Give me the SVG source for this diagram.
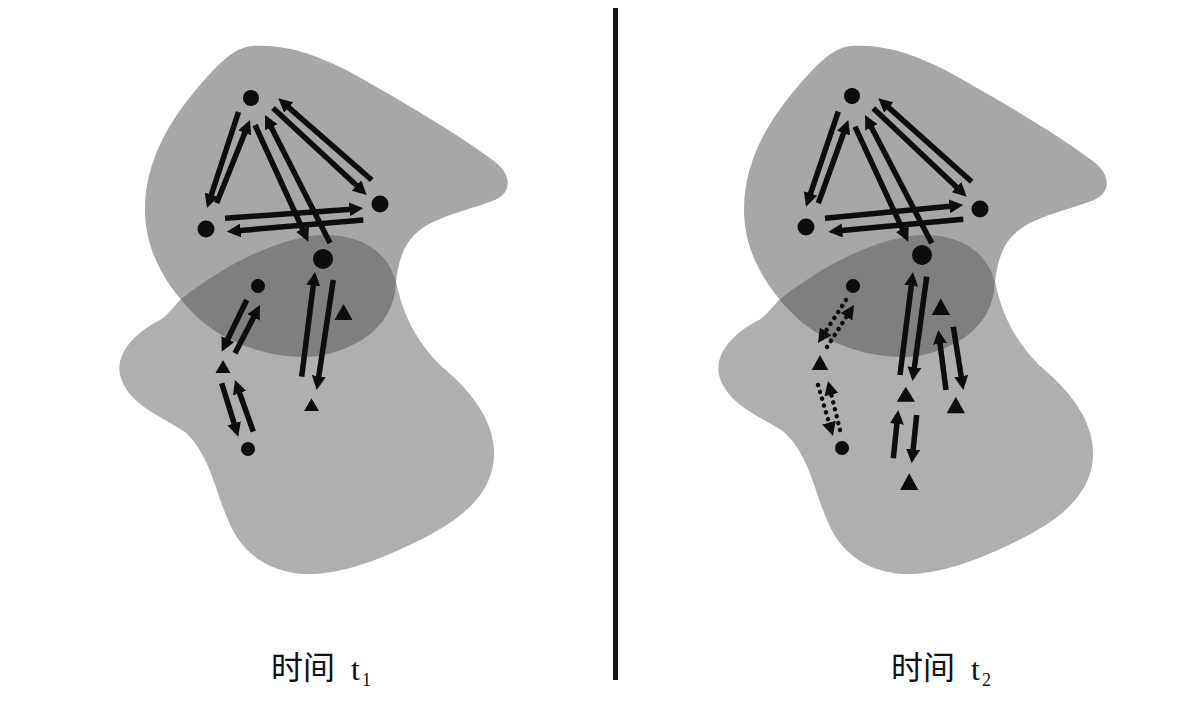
<svg xmlns="http://www.w3.org/2000/svg" width="1189" height="707" viewBox="0 0 1189 707">
<style>
.bg{fill:#ffffff}
.up{fill:#a7a7a7}
.lo{fill:#afafaf}
.ov{fill:#7f7f7f}
.nd{fill:#0d0d0d}
.ar{stroke:#0d0d0d;stroke-width:5.5;fill:none;marker-end:url(#ah)}
.dt{stroke:#0d0d0d;stroke-width:4.5;fill:none;stroke-dasharray:0.1 7;stroke-linecap:round;marker-end:url(#ah)}
.lbl{font-family:"Liberation Serif","Noto Sans CJK SC",serif;fill:#111}
</style>
<defs>
<marker id="ah" viewBox="0 0 14 14" markerWidth="14" markerHeight="14" refX="6" refY="7" markerUnits="userSpaceOnUse" orient="auto">
<path d="M0,0 L14,7 L0,14 z" fill="#0d0d0d"/>
</marker>
<path id="upperBlob" d="M253,46 C290,44 320,57 350,72 C400,100 460,135 495,162 C512,175 512,192 495,200 C470,210 440,215 420,230 C400,245 397,270 395,292 C390,320 370,345 320,356 C270,362 220,340 195,315 C165,285 145,250 145,210 C145,160 170,120 200,85 C220,62 235,47 253,46 Z"/>
<path id="lowerBlob" d="M180,300 C230,260 290,233 330,235 C370,237 392,258 398,290 C405,320 420,345 440,365 C470,390 495,420 494,455 C493,495 460,520 420,540 C380,560 340,575 305,574 C265,572 240,550 228,520 C215,490 210,455 185,432 C160,415 128,405 120,375 C115,350 140,330 160,320 C168,315 175,305 180,300 Z"/>
<clipPath id="clipUpper"><use href="#upperBlob"/></clipPath>
</defs>
<rect class="bg" x="0" y="0" width="1189" height="707"/>

<g id="regions-t1">
<use href="#upperBlob" class="up"/>
<use href="#lowerBlob" class="lo"/>
<use href="#lowerBlob" class="ov" clip-path="url(#clipUpper)"/>
</g>
<g id="regions-t2" transform="translate(599,0)">
<use href="#upperBlob" class="up"/>
<use href="#lowerBlob" class="lo"/>
<use href="#lowerBlob" class="ov" clip-path="url(#clipUpper)"/>
</g>

<line id="divider" x1="615.5" y1="8" x2="615.5" y2="680" stroke="#161616" stroke-width="5"/>

<g id="connectors">
<!-- t1 -->
<line class="ar" x1="238.5" y1="112" x2="209.5" y2="200.4"/>
<line class="ar" x1="216.7" y1="203" x2="247" y2="127.4"/>
<line class="ar" x1="273" y1="108" x2="360.9" y2="189.6"/>
<line class="ar" x1="371.7" y1="180" x2="284.3" y2="103.6"/>
<line class="ar" x1="255" y1="125" x2="305" y2="234.4"/>
<line class="ar" x1="330" y1="243" x2="268.6" y2="122.1"/>
<line class="ar" x1="225" y1="218.3" x2="355.3" y2="208.9"/>
<line class="ar" x1="363.3" y1="220" x2="234.7" y2="231"/>
<line class="ar" x1="246.7" y1="300" x2="225.2" y2="344.5"/>
<line class="ar" x1="235" y1="353.3" x2="256.3" y2="312.1"/>
<line class="ar" x1="221.7" y1="383.3" x2="235.9" y2="429.1"/>
<line class="ar" x1="253.3" y1="431.7" x2="237.6" y2="387.5"/>
<line class="ar" x1="333.3" y1="280" x2="317.9" y2="382.1"/>
<line class="ar" x1="301.7" y1="376.7" x2="314" y2="279.6"/>
<!-- t2 -->
<line class="ar" x1="838.3" y1="111.7" x2="808.6" y2="199.1"/>
<line class="ar" x1="818.3" y1="203.3" x2="845.6" y2="127.5"/>
<line class="ar" x1="873.3" y1="108.3" x2="960.9" y2="191.2"/>
<line class="ar" x1="971.7" y1="181.7" x2="884.3" y2="103.6"/>
<line class="ar" x1="855" y1="126.7" x2="904.9" y2="234.4"/>
<line class="ar" x1="931.7" y1="243.3" x2="868.7" y2="122.1"/>
<line class="ar" x1="825" y1="218.3" x2="955.3" y2="205.8"/>
<line class="ar" x1="963.3" y1="219.3" x2="836.3" y2="231"/>
<line class="dt" x1="846" y1="300" x2="822.4" y2="336.3"/>
<line class="dt" x1="827" y1="347" x2="849.7" y2="311.7"/>
<line class="dt" x1="840" y1="430" x2="829.9" y2="388.8"/>
<line class="dt" x1="818" y1="385" x2="830.7" y2="428.3"/>
<line class="ar" x1="926.7" y1="276.7" x2="913.6" y2="373.1"/>
<line class="ar" x1="900" y1="375" x2="912" y2="279.9"/>
<line class="ar" x1="893.3" y1="458.3" x2="897.5" y2="418"/>
<line class="ar" x1="916.7" y1="415" x2="912.5" y2="455.3"/>
<line class="ar" x1="946" y1="390" x2="939.3" y2="337.9"/>
<line class="ar" x1="953.3" y1="326.7" x2="962.1" y2="382.1"/>
</g>

<g id="t1-A"><circle class="nd" cx="251" cy="98" r="8"/></g>
<g id="t1-B"><circle class="nd" cx="380" cy="204" r="8.5"/></g>
<g id="t1-C"><circle class="nd" cx="206" cy="229" r="8.5"/></g>
<g id="t1-D"><circle class="nd" cx="323" cy="259" r="10"/></g>
<g id="t1-E"><circle class="nd" cx="258" cy="286" r="7"/></g>
<g id="t1-F"><circle class="nd" cx="248" cy="449" r="7"/></g>
<g id="t1-T1"><polygon class="nd" points="223,360 215.5,373 230.5,373"/></g>
<g id="t1-T2"><polygon class="nd" points="311.5,398.5 304,411 319,411"/></g>
<g id="t1-T3"><polygon class="nd" points="343.5,304 334.5,320 352.5,320"/></g>

<g id="t2-A"><circle class="nd" cx="852" cy="96" r="8"/></g>
<g id="t2-B"><circle class="nd" cx="980" cy="209" r="8.5"/></g>
<g id="t2-C"><circle class="nd" cx="806" cy="227" r="8.5"/></g>
<g id="t2-D"><circle class="nd" cx="922" cy="255" r="10"/></g>
<g id="t2-E"><circle class="nd" cx="853" cy="286" r="7"/></g>
<g id="t2-F"><circle class="nd" cx="842" cy="448" r="7"/></g>
<g id="t2-T1"><polygon class="nd" points="820,355 811.7,370 828.3,370"/></g>
<g id="t2-T2"><polygon class="nd" points="905.8,386.7 896.7,401.7 915,401.7"/></g>
<g id="t2-T3"><polygon class="nd" points="940.8,298.3 931.7,315 950,315"/></g>
<g id="t2-T4"><polygon class="nd" points="909.2,473.3 900,490 918.3,490"/></g>
<g id="t2-T5"><polygon class="nd" points="955.8,396.7 946.7,413.3 965,413.3"/></g>

<g id="label-t1">
<text class="lbl" x="271" y="679" font-size="32">时间</text>
<text class="lbl" x="351" y="680" font-size="32">t</text>
<text class="lbl" x="362" y="686" font-size="18">1</text>
</g>
<g id="label-t2">
<text class="lbl" x="891" y="679" font-size="32">时间</text>
<text class="lbl" x="971" y="680" font-size="32">t</text>
<text class="lbl" x="982" y="686" font-size="18">2</text>
</g>
</svg>
